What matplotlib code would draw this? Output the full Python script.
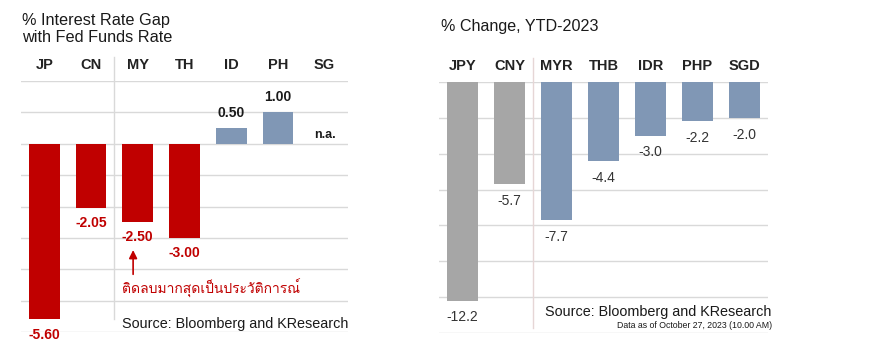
import numpy as np
import matplotlib
matplotlib.use("Agg")
from matplotlib import pyplot as plt
from matplotlib import font_manager
from fontTools.ttLib import TTFont

# data
gap_labels = ["JP", "CN", "MY", "TH", "ID", "PH", "SG"]
gap_values = [-5.60, -2.05, -2.50, -3.00, 0.50, 1.00, np.nan]
ccy_labels = ["JPY", "CNY", "MYR", "THB", "IDR", "PHP", "SGD"]
ccy_values = [-12.2, -5.7, -7.7, -4.4, -3.0, -2.2, -2.0]

RED = "#C00000"
BLUE = "#8097B5"
GREY = "#A6A6A6"
GRID = "#D9D9D9"
FONT = "Liberation Sans"


def find_thai_font():
    for f in font_manager.fontManager.ttflist:
        try:
            font = TTFont(f.fname, fontNumber=0, lazy=True)
            if 0x0E15 in font.getBestCmap():
                return f.name
        except Exception:
            continue
    return "DejaVu Sans"


thai_font = find_thai_font()
plt.rcParams["font.family"] = [FONT, "DejaVu Sans"]

W, H = 884, 354
fig = plt.figure(figsize=(W / 100, H / 100), dpi=100)


def px_axes(x0, x1, y0, y1):
    return fig.add_axes([x0 / W, 1 - y1 / H, (x1 - x0) / W, (y1 - y0) / H])


# ---------- left chart ----------
ax1 = px_axes(21, 348, 81, 332)
ax1.set_xlim(-0.5, 6.5)
ax1.set_ylim(-6, 2)
for y in range(-6, 3):
    ax1.axhline(y, color=GRID, lw=1, zorder=0)
x = np.arange(len(gap_labels))
colors1 = [RED if v < 0 else BLUE for v in np.nan_to_num(gap_values)]
ax1.bar(x, np.nan_to_num(gap_values), width=0.66, color=colors1, zorder=2)
for i, v in enumerate(gap_values):
    if np.isnan(v):
        ax1.text(i, 0.27, "n.a.", ha="center", va="center", fontsize=9,
                 fontweight="bold", color="#1a1a1a")
        continue
    off = -11 if v < 0 else 11
    ax1.annotate(f"{v:.2f}", (i, v), xytext=(0, off), textcoords="offset points",
                 ha="center", va="center", fontsize=10, fontweight="bold",
                 color=RED if v < 0 else "#1a1a1a")
for i, lab in enumerate(gap_labels):
    ax1.text(i, 2.5, lab, ha="center", va="center", fontsize=10.5, fontweight="bold",
             color="#222222")
ax1.plot([1.5, 1.5], [2.75, -5.6], color=GRID, lw=1, clip_on=False, zorder=1)
ax1.annotate("", xy=(1.9, -3.3), xytext=(1.9, -4.25),
             arrowprops=dict(arrowstyle="-|>", color=RED, lw=1.2, mutation_scale=12))
ax1.text(1.67, -4.6, "ติดลบมากสุดเป็นประวัติการณ์", family=[thai_font, "DejaVu Sans"],
         ha="left", va="center", fontsize=10, color=RED)
ax1.text(1.67, -5.73, "Source: Bloomberg and KResearch", ha="left", va="center",
         fontsize=10.4, color="#1a1a1a")
ax1.axis("off")

fig.text(22 / W, 1 - 20 / H, "% Interest Rate Gap", ha="left", va="center",
         fontsize=11.7, color="#1a1a1a")
fig.text(22 / W, 1 - 37 / H, "with Fed Funds Rate", ha="left", va="center",
         fontsize=11.7, color="#1a1a1a")

# ---------- right chart ----------
ax2 = px_axes(439, 768, 82, 333)
ax2.set_xlim(-0.5, 6.5)
ax2.set_ylim(-14, 0)
for y in range(-14, 1, 2):
    ax2.axhline(y, color=GRID, lw=1, zorder=0)
x = np.arange(len(ccy_labels))
colors2 = [GREY, GREY] + [BLUE] * 5
ax2.bar(x, ccy_values, width=0.66, color=colors2, zorder=2)
for i, v in enumerate(ccy_values):
    ax2.annotate(f"{v:.1f}", (i, v), xytext=(0, -12), textcoords="offset points",
                 ha="center", va="center", fontsize=10, color="#333333")
for i, lab in enumerate(ccy_labels):
    ax2.text(i, 0.9, lab, ha="center", va="center", fontsize=10.5, fontweight="bold",
             color="#222222")
ax2.plot([1.5, 1.5], [1.35, -13.7], color="#E6D6D6", lw=1, clip_on=False, zorder=1)
ax2.text(6.58, -12.85, "Source: Bloomberg and KResearch", ha="right", va="center",
         fontsize=10.4, color="#1a1a1a")
ax2.text(6.58, -13.6, "Data as of October 27, 2023 (10.00 AM)", ha="right", va="center",
         fontsize=6.3, color="#1a1a1a")
ax2.axis("off")

fig.text(441 / W, 1 - 27 / H, "% Change, YTD-2023", ha="left", va="center",
         fontsize=11.6, color="#1a1a1a")

fig.savefig("out.png", dpi=100)
